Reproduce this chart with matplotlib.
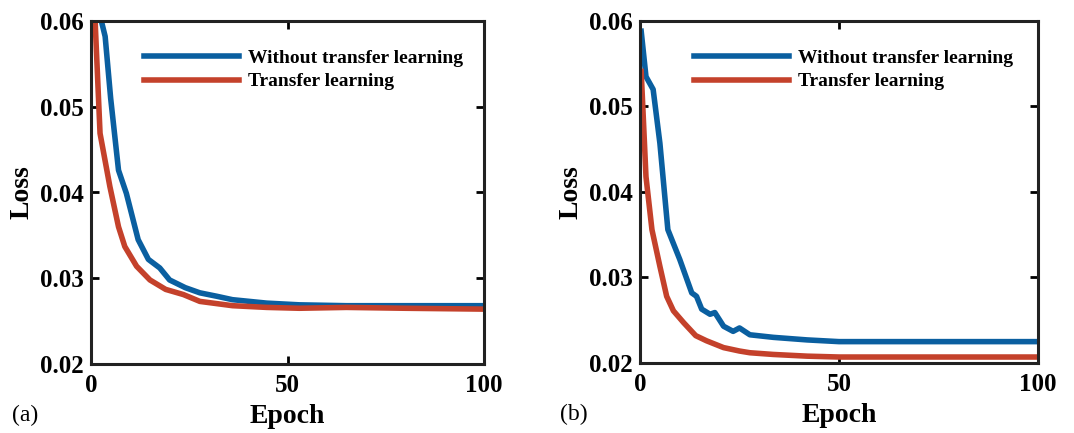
import matplotlib
matplotlib.use("Agg")
import matplotlib.pyplot as plt

plt.rcParams['font.family'] = ['Liberation Serif', 'DejaVu Serif']
plt.rcParams['font.weight'] = 'bold'

# (a) values
epoch_a_blue = [1, 2, 3.6, 5, 7, 9, 12, 14.6, 17.5, 20, 24, 27.7, 32, 36, 44.7, 53, 65, 80, 100]
loss_a_blue = [0.066, 0.0612, 0.0582, 0.051, 0.0426, 0.0399, 0.0345, 0.0322, 0.0312, 0.0298,
               0.0289, 0.0283, 0.0279, 0.0275, 0.0271, 0.0269, 0.0268, 0.0268, 0.0268]
epoch_a_red = [1, 2.3, 4.8, 7, 8.6, 11.6, 15, 19, 23.5, 27.7, 36, 44.7, 53, 65, 80, 100]
loss_a_red = [0.0605, 0.0469, 0.0407, 0.036, 0.0337, 0.0314, 0.0298, 0.0287, 0.0281, 0.0273,
              0.0268, 0.0266, 0.0265, 0.0266, 0.0265, 0.0264]

# (b)
epoch_b_blue = [0.3, 1.5, 3.3, 5, 7, 10, 13, 14.2, 15.5, 17.6, 18.8, 21, 23.4, 25, 27.6, 33.5,
                42, 50, 75, 100]
loss_b_blue = [0.0588, 0.0535, 0.052, 0.0457, 0.0356, 0.0321, 0.0282, 0.0278, 0.0263, 0.0257,
               0.0259, 0.0243, 0.0237, 0.0241, 0.0233, 0.023, 0.0227, 0.0225, 0.0225, 0.0225]
epoch_b_red = [0.3, 1.5, 3, 5, 6.7, 8.4, 11, 14, 16.7, 21, 25, 27.6, 33.5, 42, 50, 75, 100]
loss_b_red = [0.0541, 0.0418, 0.0356, 0.0313, 0.0278, 0.0261, 0.0247, 0.0232, 0.0226, 0.0218,
              0.0214, 0.0212, 0.021, 0.0208, 0.0207, 0.0207, 0.0207]

blue = '#0a5fa0'
red = '#c4412b'

fig = plt.figure(figsize=(10.74, 4.33), dpi=100)
ax1 = fig.add_axes([91 / 1074, 1 - 364 / 433, 393 / 1074, 343 / 433])
ax2 = fig.add_axes([640 / 1074, 1 - 363 / 433, 398 / 1074, 342 / 433])

panels = [(ax1, epoch_a_blue, loss_a_blue, epoch_a_red, loss_a_red, '(a)'),
          (ax2, epoch_b_blue, loss_b_blue, epoch_b_red, loss_b_red, '(b)')]

for ax, xb, yb, xr, yr, tag in panels:
    ax.plot(xb, yb, color=blue, lw=4, label='Without transfer learning')
    ax.plot(xr, yr, color=red, lw=4, label='Transfer learning')
    ax.set_xlim(0, 100)
    ax.set_ylim(0.02, 0.06)
    ax.set_xticks([0, 50, 100])
    ax.set_yticks([0.02, 0.03, 0.04, 0.05, 0.06])
    ax.set_yticklabels(['0.02', '0.03', '0.04', '0.05', '0.06'])
    ax.tick_params(direction='in', length=6, width=2, top=True, right=True,
                   labelsize=18)
    ax.tick_params(axis='x', pad=7)
    ax.tick_params(axis='y', pad=5)
    for sp in ax.spines.values():
        sp.set_linewidth(2.2)
        sp.set_color('#222222')
    ax.set_xlabel('Epoch', fontsize=20, fontweight='bold', labelpad=5)
    ax.set_ylabel('Loss', fontsize=20, fontweight='bold', labelpad=4)
    ax.legend(loc='upper left', frameon=False, handlelength=4.9,
              handletextpad=0.45, labelspacing=0.3, bbox_to_anchor=(0.115, 0.94),
              borderaxespad=0, prop={'weight': 'bold', 'size': 14})
    ax.text(-0.2, -0.15, tag, transform=ax.transAxes, fontsize=17,
            fontweight='normal', va='center', ha='left')

fig.savefig('out.png', dpi=100)
